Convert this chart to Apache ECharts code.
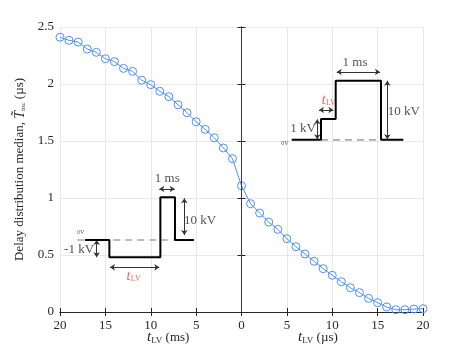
<!DOCTYPE html>
<html><head><meta charset="utf-8">
<script src="https://cdn.jsdelivr.net/npm/echarts@6/dist/echarts.min.js"></script>
<style>html,body{margin:0;padding:0;background:#fff}#c{width:467px;height:351px}</style>
</head><body><div id="c"></div>
<script>
// ---- data ----
const tLV = [-20,-19,-18,-17,-16,-15,-14,-13,-12,-11,-10,-9,-8,-7,-6,-5,-4,-3,-2,-1,0,1,2,3,4,5,6,7,8,9,10,11,12,13,14,15,16,17,18,19,20];
const medianDelay = [2.41,2.383,2.368,2.307,2.278,2.222,2.196,2.137,2.111,2.033,1.994,1.936,1.889,1.818,1.748,1.669,1.602,1.529,1.439,1.345,1.107,0.950,0.868,0.789,0.725,0.643,0.573,0.509,0.445,0.380,0.322,0.266,0.213,0.170,0.120,0.082,0.044,0.020,0.020,0.026,0.029];
const xTickLabels = ['20','15','10','5','0','5','10','15','20'];
const yTickLabels = ['0','0.5','1','1.5','2','2.5'];

// inset diagrams (in axis data units)
const rightWave = [[5.53,1.51],[8.76,1.51],[8.76,1.693],[10.38,1.693],[10.38,2.029],[15.37,2.029],[15.37,1.51],[17.83,1.51]];
const rightDash = [[8.76,1.51],[15.37,1.51]];
const leftWave = [[-17.24,0.632],[-14.56,0.632],[-14.56,0.480],[-8.94,0.480],[-8.94,1.006],[-7.33,1.006],[-7.33,0.632],[-5.23,0.632]];
const leftDash = [[-18.1,0.632],[-7.33,0.632]];
const insetArrows = [
  [[8.35,1.690],[8.35,1.515]],
  [[8.54,1.772],[10.12,1.772]],
  [[10.49,2.105],[15.26,2.105]],
  [[16.07,2.029],[16.07,1.515]],
  [[-15.96,0.632],[-15.96,0.480]],
  [[-14.49,0.392],[-9.06,0.392]],
  [[-9.06,1.079],[-7.36,1.079]],
  [[-6.30,0.997],[-6.30,0.675]]
];
const insetTexts = [
  {t:'0V', p:[4.79,1.48], kind:'small'},
  {t:'1 kV', p:[6.78,1.605]},
  {t:'t', p:[9.05,1.86], kind:'redIt'},
  {t:'LV', p:[9.85,1.835], kind:'redSub'},
  {t:'1 ms', p:[12.51,2.19]},
  {t:'10 kV', p:[17.9,1.757]},
  {t:'0V', p:[-17.72,0.696], kind:'small'},
  {t:'-1 kV', p:[-17.9,0.544]},
  {t:'t', p:[-12.45,0.312], kind:'redIt'},
  {t:'LV', p:[-11.65,0.287], kind:'redSub'},
  {t:'1 ms', p:[-8.18,1.173]},
  {t:'10 kV', p:[-4.57,0.80]}
];

const FONT = "'Liberation Serif', 'Times New Roman', serif";
const AX = '#262626';
const RED = '#e8383d';
const chart = echarts.init(document.getElementById('c'), null, {renderer:'canvas'});
const blue = '#4d8ff5';
function labelFor(kind){
  if (kind === 'small') return {color:'#262626', fontSize:6, fontFamily:FONT};
  if (kind === 'redIt') return {color:RED, fontSize:14, fontStyle:'italic', fontFamily:FONT};
  if (kind === 'redSub') return {color:RED, fontSize:8, fontFamily:FONT};
  return {color:'#262626', fontSize:13, fontFamily:FONT};
}
chart.setOption({
  animation:false,
  textStyle:{fontFamily:FONT},
  grid:{left:60, right:44, top:27, bottom:39, containLabel:false},
  xAxis:[{
    type:'value', min:-20, max:20, interval:5,
    axisLine:{lineStyle:{color:AX}}, axisTick:{inside:true, length:4, lineStyle:{color:AX}},
    splitLine:{show:true, lineStyle:{color:'#e8e8e8'}},
    axisLabel:{color:AX, fontFamily:FONT, fontSize:13, margin:7,
      formatter:(v)=>xTickLabels[Math.round((v+20)/5)]}
  },{
    type:'value', min:-20, max:20, interval:5, position:'top',
    axisLine:{show:true, lineStyle:{color:AX}}, axisTick:{show:true, inside:true, length:4, lineStyle:{color:AX}},
    splitLine:{show:false}, axisLabel:{show:false}
  }],
  yAxis:[{
    type:'value', min:0, max:2.5, interval:0.5,
    axisLine:{show:true, lineStyle:{color:AX}}, axisTick:{show:true, inside:true, length:4, lineStyle:{color:AX}},
    splitLine:{show:true, lineStyle:{color:'#e8e8e8'}},
    axisLabel:{color:AX, fontFamily:FONT, fontSize:13, margin:6,
      formatter:(v)=>yTickLabels[Math.round(v/0.5)]},
    name:'Delay distribution median, {it|T\u0303}{sub|inc} (\u00b5s)',
    nameLocation:'middle', nameGap:28, nameRotate:90,
    nameTextStyle:{color:AX, fontFamily:FONT, fontSize:13,
      rich:{it:{fontStyle:'italic', fontFamily:FONT, fontSize:14, color:AX},
            sub:{fontFamily:FONT, fontSize:7, color:AX, verticalAlign:'bottom', padding:[5,0,0,0]}}}
  },{
    type:'value', min:0, max:2.5, interval:0.5, position:'right',
    axisLine:{show:true, lineStyle:{color:AX}}, axisTick:{show:true, inside:true, length:4, lineStyle:{color:AX}},
    splitLine:{show:false}, axisLabel:{show:false}
  }],
  graphic:[
    {type:'text', left:147, top:330, style:{text:'{it|t}{sub|LV} (ms)', fill:AX, fontFamily:FONT, fontSize:13,
      rich:{it:{fontStyle:'italic', fontFamily:FONT, fontSize:15, fill:AX}, sub:{fontFamily:FONT, fontSize:9, fill:AX, verticalAlign:'bottom', padding:[7,0,0,0]}}}},
    {type:'text', left:298, top:330, style:{text:'{it|t}{sub|LV} (\u00b5s)', fill:AX, fontFamily:FONT, fontSize:13,
      rich:{it:{fontStyle:'italic', fontFamily:FONT, fontSize:15, fill:AX}, sub:{fontFamily:FONT, fontSize:9, fill:AX, verticalAlign:'bottom', padding:[7,0,0,0]}}}}
  ],
  series:[
    {type:'line', data:leftDash, showSymbol:false, silent:true, z:3,
      lineStyle:{color:'#ababab', width:1.6, type:[7,5]}},
    {type:'line', data:rightDash, showSymbol:false, silent:true, z:3,
      lineStyle:{color:'#ababab', width:1.6, type:[7,5]}},
    {type:'line', data:leftWave, showSymbol:false, silent:true, z:4,
      lineStyle:{color:'#000', width:2}},
    {type:'line', data:rightWave, showSymbol:false, silent:true, z:4,
      lineStyle:{color:'#000', width:2}},
    {type:'lines', coordinateSystem:'cartesian2d', silent:true, z:4,
      symbol:['arrow','arrow'], symbolSize:5,
      lineStyle:{color:'#333', width:1, opacity:1},
      data:insetArrows.map(c=>({coords:c}))},
    {type:'scatter', symbolSize:0, silent:true, z:5,
      data:insetTexts.map(d=>({value:d.p, name:d.t, label:labelFor(d.kind)})),
      label:{show:true, position:'inside', formatter:'{b}', fontFamily:FONT}},
    {type:'line', data:tLV.map((x,i)=>[x, medianDelay[i]]), z:2,
      symbol:'circle', symbolSize:8, showSymbol:true,
      lineStyle:{color:blue, width:1},
      itemStyle:{color:'rgba(255,255,255,0)', borderColor:blue, borderWidth:1},
      markLine:{silent:true, symbol:'none', label:{show:false},
        lineStyle:{color:'#3a3a3a', width:1, type:'solid'},
        data:[{xAxis:0}]}}
  ]
});
</script></body></html>
